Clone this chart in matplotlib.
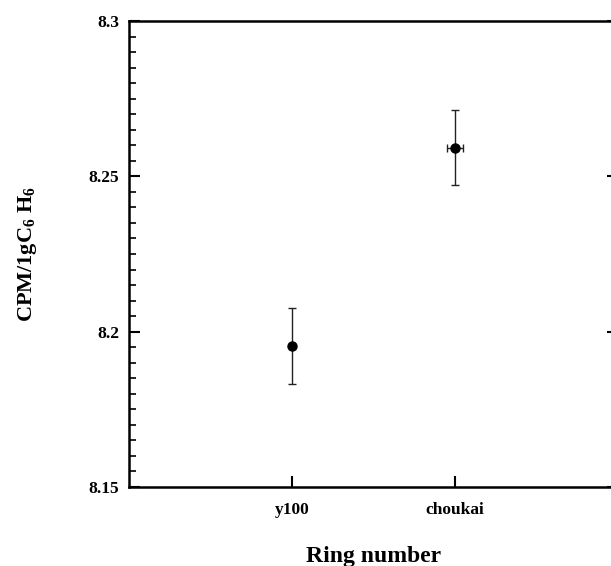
import matplotlib.pyplot as plt
from matplotlib.ticker import MultipleLocator

samples = ['y100', 'choukai']
xpos = [1, 2]
cpm = [8.1955, 8.2592]
cpm_err = [0.0122, 0.0121]
pos_err = [0.0, 0.05]

plt.rcParams['font.family'] = ['Liberation Serif', 'DejaVu Serif']
plt.rcParams['mathtext.fontset'] = 'custom'
plt.rcParams['mathtext.rm'] = 'Liberation Serif:bold'
plt.rcParams['mathtext.bf'] = 'Liberation Serif:bold'

fig = plt.figure(figsize=(6.11, 5.66), dpi=100)
ax = fig.add_axes([0.211, 0.1396, 0.800, 0.8233])

ax.errorbar(xpos, cpm, yerr=cpm_err, xerr=pos_err, fmt='o', color='black',
            ms=6.5, elinewidth=1, capsize=3, capthick=1, ecolor='#222222')

ax.set_xlim(0, 3)
ax.set_ylim(8.15, 8.3)
ax.set_xticks(xpos)
ax.set_xticklabels(samples, fontweight='bold', fontsize=12.5)
ax.yaxis.set_minor_locator(MultipleLocator(0.005))
ax.set_yticks([8.15, 8.2, 8.25, 8.3])
ax.set_yticklabels(['8.15', '8.2', '8.25', '8.3'], fontweight='bold', fontsize=12.5)

ax.tick_params(axis='both', which='major', direction='in', length=8, width=1.5, pad=11)
ax.tick_params(axis='y', which='major', right=True, pad=7)
ax.tick_params(axis='y', which='minor', direction='in', length=5, width=1.2, right=True)
for s in ax.spines.values():
    s.set_linewidth(1.8)

ax.set_xlabel('Ring number', fontweight='bold', fontsize=17, labelpad=20)
ax.set_ylabel('CPM/1gC$_{\\mathbf{6}}$ H$_{\\mathbf{6}}$', fontweight='bold', fontsize=16, labelpad=36)

fig.savefig('out.png', dpi=100)
